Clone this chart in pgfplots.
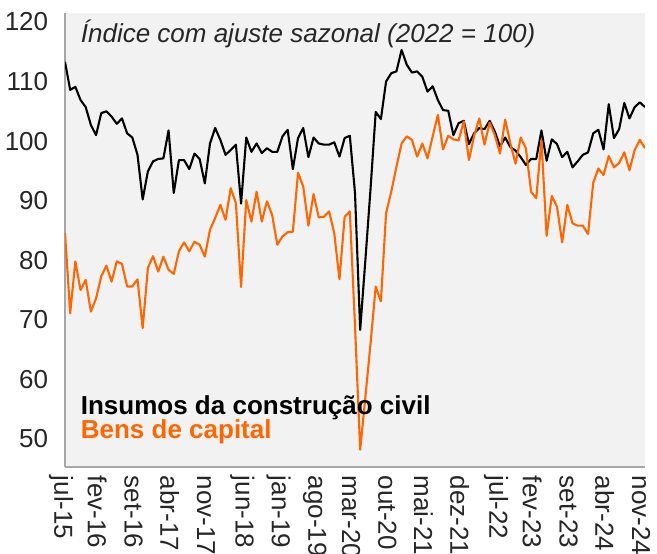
\documentclass[border=0pt]{standalone}
\usepackage{pgfplots}
\pgfplotsset{compat=1.18}
\usepackage{fontspec}
\setmainfont{Liberation Sans}
\definecolor{bgc}{HTML}{F2F2F2}
\definecolor{axc}{HTML}{A6A6A6}
\definecolor{org}{HTML}{FF6600}
\pgfplotstableread{
i ins bens
0 113.3 84.6
1 108.6 71.1
2 109.1 79.8
3 106.9 75.0
4 105.7 76.7
5 102.7 71.4
6 101.0 73.6
7 104.7 77.3
8 105.0 79.1
9 104.1 76.4
10 102.9 79.8
11 103.8 79.4
12 101.3 75.6
13 100.6 75.6
14 97.7 76.8
15 90.2 68.6
16 94.9 78.7
17 96.6 80.7
18 97.0 78.1
19 97.1 80.6
20 101.8 78.4
21 91.3 77.7
22 96.8 81.5
23 96.8 83.0
24 95.3 81.5
25 97.9 83.1
26 97.0 82.6
27 92.9 80.6
28 99.6 85.1
29 102.2 87.1
30 100.2 89.3
31 97.7 86.8
32 98.5 92.1
33 99.4 89.6
34 89.5 75.5
35 100.6 90.1
36 98.2 86.5
37 99.6 91.5
38 98.0 86.5
39 98.8 89.9
40 98.2 87.6
41 98.2 82.6
42 100.8 84.0
43 101.9 84.7
44 95.3 84.8
45 100.5 94.7
46 102.2 92.4
47 97.3 85.8
48 100.6 91.1
49 99.6 87.2
50 99.4 87.3
51 99.4 88.2
52 99.8 84.5
53 97.4 76.8
54 100.5 87.3
55 100.9 88.2
56 91.3 69.0
57 68.3 48.2
58 80.0 57.0
59 92.0 66.0
60 104.9 75.6
61 103.7 73.1
62 110.0 87.9
63 111.4 91.5
64 111.7 95.7
65 115.3 99.6
66 112.8 100.8
67 111.5 100.2
68 111.7 97.4
69 110.8 99.6
70 108.3 97.1
71 109.2 100.8
72 106.9 104.4
73 105.2 98.6
74 105.1 100.9
75 101.0 100.3
76 103.0 100.1
77 103.4 103.3
78 99.5 96.8
79 101.3 100.9
80 102.2 103.8
81 102.0 99.4
82 103.4 103.1
83 101.6 101.0
84 99.1 97.9
85 100.6 103.6
86 99.0 99.6
87 98.4 96.2
88 97.3 100.6
89 96.0 98.8
90 97.0 91.5
91 97.0 90.4
92 101.8 100.2
93 96.7 84.1
94 100.3 90.8
95 99.5 89.0
96 97.3 83.0
97 98.2 89.3
98 95.6 86.2
99 96.6 85.8
100 97.7 85.8
101 98.1 84.4
102 101.3 93.0
103 101.9 95.4
104 98.6 94.3
105 106.2 97.5
106 100.5 95.6
107 102.0 96.3
108 106.4 98.1
109 103.8 95.1
110 105.7 98.5
111 106.5 100.2
112 105.7 98.8
}\data
\begin{document}
\fontsize{26bp}{31bp}\selectfont
\begin{tikzpicture}
\begin{axis}[
  at={(65bp,87bp)}, anchor=south west, scale only axis,
  width=580bp, height=454bp,
  xmin=0, xmax=112, ymin=45.3, ymax=121.5,
  axis background/.style={fill=bgc},
  axis x line*=bottom, axis y line*=left,
  axis line style={axc, line width=1.5bp, -},
  xtick={0,7,...,112},
  xticklabels={jul-15,fev-16,set-16,abr-17,nov-17,jun-18,jan-19,ago-19,mar-20,out-20,mai-21,dez-21,jul-22,fev-23,set-23,abr-24,nov-24},
  ytick={50,60,...,120},
  major tick length=0,
  tick label style={font=\fontsize{26bp}{31bp}\selectfont, text=black!85},
  /pgf/number format/assume math mode=true,
  x tick label style={rotate=-90, anchor=west, xshift=0bp, yshift=-4bp},
  yticklabel style={xshift=-8bp},
]
\addplot[black, line width=2.1bp, line join=round] table[x=i, y=ins] {\data};
\addplot[org, line width=2.1bp, line join=round] table[x=i, y=bens] {\data};
\end{axis}
\node[anchor=base west, font=\itshape, text=black!85] at (72bp, 511bp) {Índice com ajuste sazonal (2022 = 100)};
\node[anchor=base west, font=\bfseries] at (72bp, 139bp) {Insumos da construção civil};
\node[anchor=base west, font=\bfseries, text=org] at (72bp, 115bp) {Bens de capital};
\pgfresetboundingbox
\path (0,0) rectangle (657bp,554bp);
\end{tikzpicture}
\end{document}
